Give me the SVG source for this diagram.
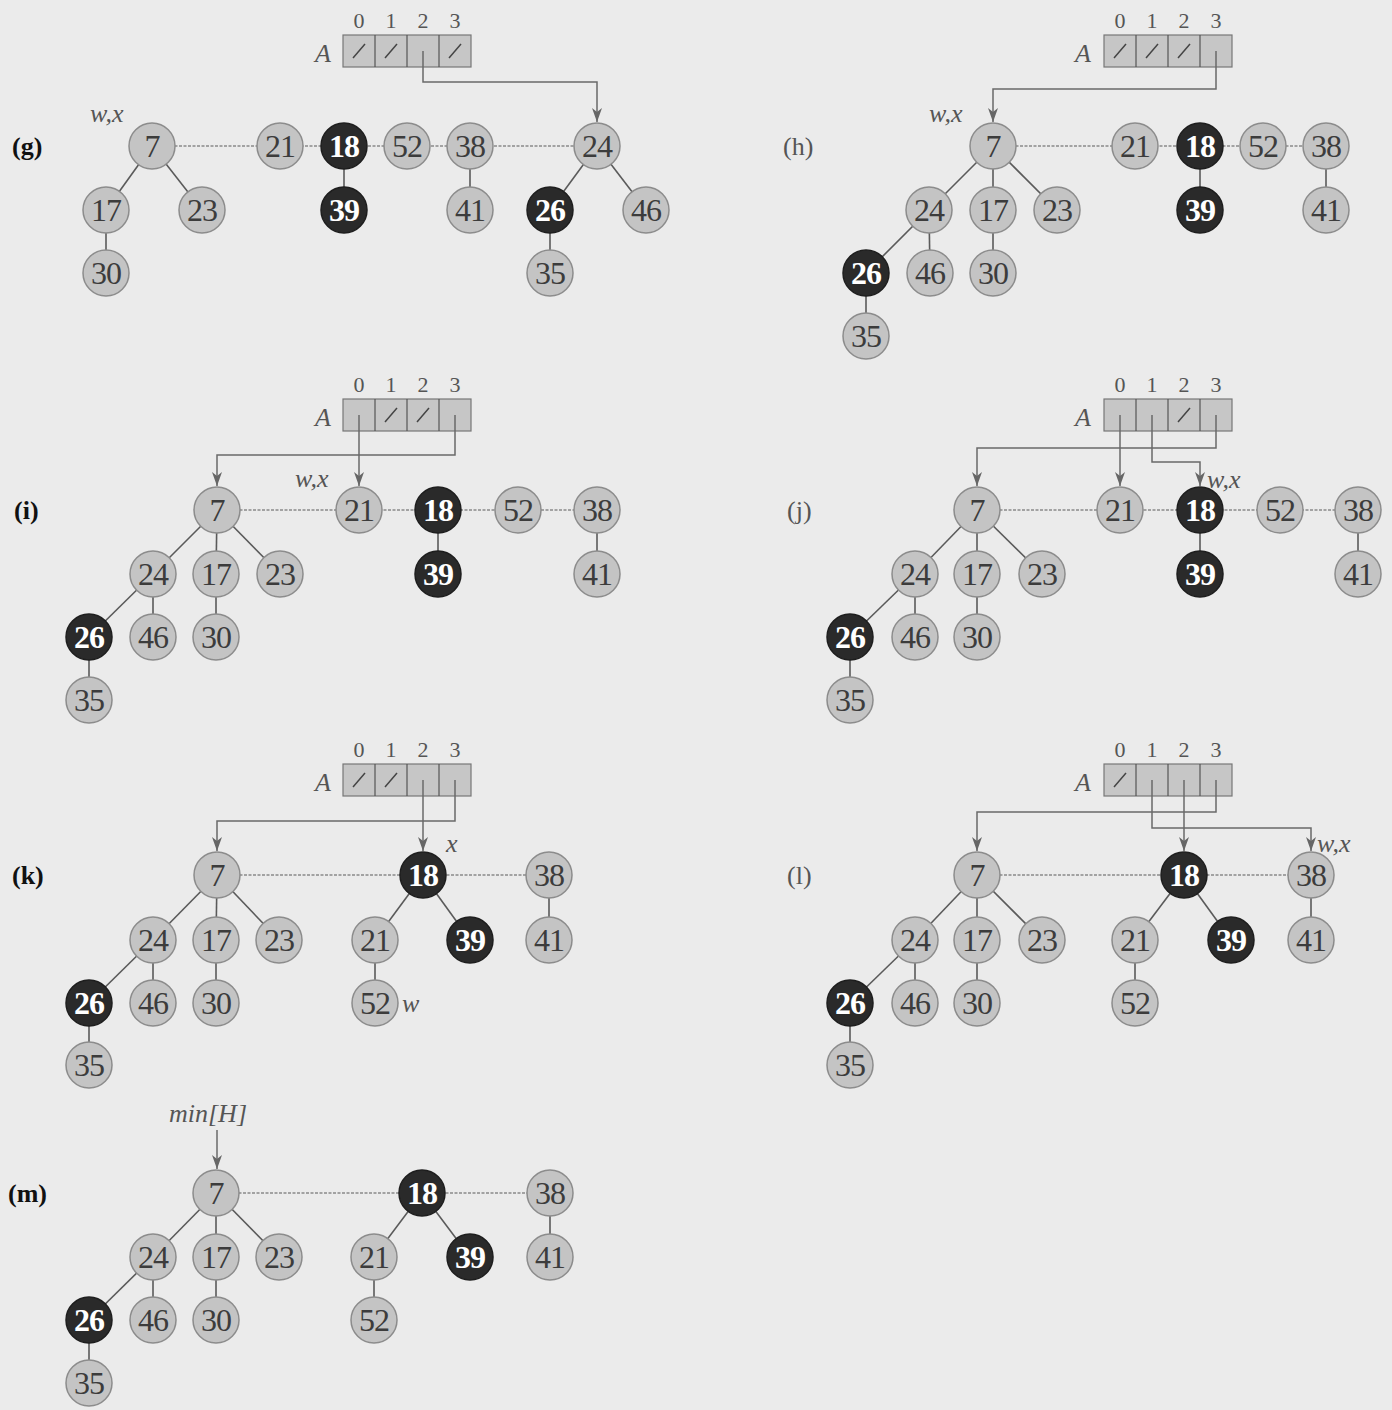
<svg xmlns="http://www.w3.org/2000/svg" width="1392" height="1410" viewBox="0 0 1392 1410">
<defs>
<marker id="ah" markerUnits="userSpaceOnUse" markerWidth="14" markerHeight="12" refX="14" refY="5" orient="auto"><path d="M0,0 L14,5 L0,10 L4,5 Z" fill="#666"/></marker>
</defs>
<style>
.n circle{fill:#c4c4c4;stroke:#8c8c8c;stroke-width:1.5}
.n text{font-family:"Liberation Serif",serif;font-size:32px;fill:#3c3c3c;text-anchor:middle;letter-spacing:-1px}
.b circle{fill:#2a2a2a;stroke:#1e1e1e}
.b text{fill:#fff;font-weight:bold}
.rl{stroke:#8a8a8a;stroke-width:1.3;stroke-dasharray:3 1.5}
.te{stroke:#5a5a5a;stroke-width:1.6}
.ptr{fill:none;stroke:#6a6a6a;stroke-width:1.5;marker-end:url(#ah)}
.arr rect{fill:#c6c6c6;stroke:#777;stroke-width:1.2}
.arr line{stroke:#555;stroke-width:1.2}
.arr .sl{stroke:#444;stroke-width:1.5}
.idx{font-family:"Liberation Serif",serif;font-size:22px;fill:#555;text-anchor:middle}
.lab{font-family:"Liberation Serif",serif;font-style:italic;font-size:26px;fill:#555}
.pl{font-family:"Liberation Serif",serif;font-size:26px;font-weight:bold;fill:#111}
.pl2{font-family:"Liberation Serif",serif;font-size:26px;fill:#555}
</style>
<rect width="1392" height="1410" fill="#ebebeb"/>

<!-- panel labels -->
<text class="pl" x="12" y="155">(g)</text>
<text class="pl2" x="783" y="155">(h)</text>
<text class="pl" x="14" y="519">(i)</text>
<text class="pl2" x="787" y="519">(j)</text>
<text class="pl" x="12" y="884">(k)</text>
<text class="pl2" x="787" y="884">(l)</text>
<text class="pl" x="8" y="1202">(m)</text>

<!-- arrays -->
<g id="arr-g" class="arr">
<text class="idx" x="359" y="28">0</text><text class="idx" x="391" y="28">1</text><text class="idx" x="423" y="28">2</text><text class="idx" x="455" y="28">3</text>
<text class="lab" x="315" y="62" font-size="28">A</text>
<rect x="343" y="35" width="128" height="32"/>
<line x1="375" y1="35" x2="375" y2="67"/><line x1="407" y1="35" x2="407" y2="67"/><line x1="439" y1="35" x2="439" y2="67"/>
<line class="sl" x1="353" y1="58" x2="365" y2="44"/><line class="sl" x1="385" y1="58" x2="397" y2="44"/><line class="sl" x1="449" y1="58" x2="461" y2="44"/>
</g>
<g id="arr-h" class="arr">
<text class="idx" x="1120" y="28">0</text><text class="idx" x="1152" y="28">1</text><text class="idx" x="1184" y="28">2</text><text class="idx" x="1216" y="28">3</text>
<text class="lab" x="1075" y="62" font-size="28">A</text>
<rect x="1104" y="35" width="128" height="32"/>
<line x1="1136" y1="35" x2="1136" y2="67"/><line x1="1168" y1="35" x2="1168" y2="67"/><line x1="1200" y1="35" x2="1200" y2="67"/>
<line class="sl" x1="1114" y1="58" x2="1126" y2="44"/><line class="sl" x1="1146" y1="58" x2="1158" y2="44"/><line class="sl" x1="1178" y1="58" x2="1190" y2="44"/>
</g>
<g id="arr-i" class="arr">
<text class="idx" x="359" y="392">0</text><text class="idx" x="391" y="392">1</text><text class="idx" x="423" y="392">2</text><text class="idx" x="455" y="392">3</text>
<text class="lab" x="315" y="426" font-size="28">A</text>
<rect x="343" y="399" width="128" height="32"/>
<line x1="375" y1="399" x2="375" y2="431"/><line x1="407" y1="399" x2="407" y2="431"/><line x1="439" y1="399" x2="439" y2="431"/>
<line class="sl" x1="385" y1="422" x2="397" y2="408"/><line class="sl" x1="417" y1="422" x2="429" y2="408"/>
</g>
<g id="arr-j" class="arr">
<text class="idx" x="1120" y="392">0</text><text class="idx" x="1152" y="392">1</text><text class="idx" x="1184" y="392">2</text><text class="idx" x="1216" y="392">3</text>
<text class="lab" x="1075" y="426" font-size="28">A</text>
<rect x="1104" y="399" width="128" height="32"/>
<line x1="1136" y1="399" x2="1136" y2="431"/><line x1="1168" y1="399" x2="1168" y2="431"/><line x1="1200" y1="399" x2="1200" y2="431"/>
<line class="sl" x1="1178" y1="422" x2="1190" y2="408"/>
</g>
<g id="arr-k" class="arr">
<text class="idx" x="359" y="757">0</text><text class="idx" x="391" y="757">1</text><text class="idx" x="423" y="757">2</text><text class="idx" x="455" y="757">3</text>
<text class="lab" x="315" y="791" font-size="28">A</text>
<rect x="343" y="764" width="128" height="32"/>
<line x1="375" y1="764" x2="375" y2="796"/><line x1="407" y1="764" x2="407" y2="796"/><line x1="439" y1="764" x2="439" y2="796"/>
<line class="sl" x1="353" y1="787" x2="365" y2="773"/><line class="sl" x1="385" y1="787" x2="397" y2="773"/>
</g>
<g id="arr-l" class="arr">
<text class="idx" x="1120" y="757">0</text><text class="idx" x="1152" y="757">1</text><text class="idx" x="1184" y="757">2</text><text class="idx" x="1216" y="757">3</text>
<text class="lab" x="1075" y="791" font-size="28">A</text>
<rect x="1104" y="764" width="128" height="32"/>
<line x1="1136" y1="764" x2="1136" y2="796"/><line x1="1168" y1="764" x2="1168" y2="796"/><line x1="1200" y1="764" x2="1200" y2="796"/>
<line class="sl" x1="1114" y1="787" x2="1126" y2="773"/>
</g>

<!-- text labels -->
<text class="lab" x="90" y="122">w,x</text>
<text class="lab" x="929" y="122">w,x</text>
<text class="lab" x="295" y="487">w,x</text>
<text class="lab" x="1207" y="488">w,x</text>
<text class="lab" x="446" y="852">x</text>
<text class="lab" x="402" y="1012">w</text>
<text class="lab" x="1317" y="852">w,x</text>
<text class="lab" x="169" y="1122">min[H]</text>

<g id="connectors">
<!-- g -->
<line class="rl" x1="152" y1="146" x2="597" y2="146"/>
<line class="te" x1="152" y1="146" x2="106" y2="210"/><line class="te" x1="152" y1="146" x2="202" y2="210"/><line class="te" x1="106" y1="210" x2="106" y2="273"/>
<line class="te" x1="344" y1="146" x2="344" y2="210"/><line class="te" x1="470" y1="146" x2="470" y2="210"/>
<line class="te" x1="597" y1="146" x2="550" y2="210"/><line class="te" x1="597" y1="146" x2="646" y2="210"/><line class="te" x1="550" y1="210" x2="550" y2="273"/>
<polyline class="ptr" points="423,51 423,82 597,82 597,122"/>
<!-- h -->
<line class="rl" x1="993" y1="146" x2="1326" y2="146"/>
<line class="te" x1="993" y1="146" x2="929" y2="210"/><line class="te" x1="993" y1="146" x2="993" y2="210"/><line class="te" x1="993" y1="146" x2="1057" y2="210"/>
<line class="te" x1="929" y1="210" x2="866" y2="273"/><line class="te" x1="929" y1="210" x2="930" y2="273"/><line class="te" x1="993" y1="210" x2="993" y2="273"/><line class="te" x1="866" y1="273" x2="866" y2="336"/>
<line class="te" x1="1200" y1="146" x2="1200" y2="210"/><line class="te" x1="1326" y1="146" x2="1326" y2="210"/>
<polyline class="ptr" points="1216,51 1216,89 993,89 993,122"/>
<!-- i -->
<line class="rl" x1="217" y1="510" x2="597" y2="510"/>
<line class="te" x1="217" y1="510" x2="153" y2="574"/><line class="te" x1="217" y1="510" x2="216" y2="574"/><line class="te" x1="217" y1="510" x2="280" y2="574"/>
<line class="te" x1="153" y1="574" x2="89" y2="637"/><line class="te" x1="153" y1="574" x2="153" y2="637"/><line class="te" x1="216" y1="574" x2="216" y2="637"/><line class="te" x1="89" y1="637" x2="89" y2="700"/>
<line class="te" x1="438" y1="510" x2="438" y2="574"/><line class="te" x1="597" y1="510" x2="597" y2="574"/>
<polyline class="ptr" points="455,415 455,455 217,455 217,486"/>
<polyline class="ptr" points="359,415 359,486"/>
<!-- j -->
<line class="rl" x1="977" y1="510" x2="1358" y2="510"/>
<line class="te" x1="977" y1="510" x2="915" y2="574"/><line class="te" x1="977" y1="510" x2="977" y2="574"/><line class="te" x1="977" y1="510" x2="1042" y2="574"/>
<line class="te" x1="915" y1="574" x2="850" y2="637"/><line class="te" x1="915" y1="574" x2="915" y2="637"/><line class="te" x1="977" y1="574" x2="977" y2="637"/><line class="te" x1="850" y1="637" x2="850" y2="700"/>
<line class="te" x1="1200" y1="510" x2="1200" y2="574"/><line class="te" x1="1358" y1="510" x2="1358" y2="574"/>
<polyline class="ptr" points="1216,415 1216,448 977,448 977,486"/>
<polyline class="ptr" points="1120,415 1120,486"/>
<polyline class="ptr" points="1152,415 1152,462 1200,462 1200,486"/>
<!-- k -->
<line class="rl" x1="217" y1="875" x2="549" y2="875"/>
<line class="te" x1="217" y1="875" x2="153" y2="940"/><line class="te" x1="217" y1="875" x2="216" y2="940"/><line class="te" x1="217" y1="875" x2="279" y2="940"/>
<line class="te" x1="153" y1="940" x2="89" y2="1003"/><line class="te" x1="153" y1="940" x2="153" y2="1003"/><line class="te" x1="216" y1="940" x2="216" y2="1003"/><line class="te" x1="89" y1="1003" x2="89" y2="1065"/>
<line class="te" x1="423" y1="875" x2="375" y2="940"/><line class="te" x1="423" y1="875" x2="470" y2="940"/><line class="te" x1="375" y1="940" x2="375" y2="1003"/><line class="te" x1="549" y1="875" x2="549" y2="940"/>
<polyline class="ptr" points="455,780 455,821 217,821 217,851"/>
<polyline class="ptr" points="423,780 423,851"/>
<!-- l -->
<line class="rl" x1="977" y1="875" x2="1311" y2="875"/>
<line class="te" x1="977" y1="875" x2="915" y2="940"/><line class="te" x1="977" y1="875" x2="977" y2="940"/><line class="te" x1="977" y1="875" x2="1042" y2="940"/>
<line class="te" x1="915" y1="940" x2="850" y2="1003"/><line class="te" x1="915" y1="940" x2="915" y2="1003"/><line class="te" x1="977" y1="940" x2="977" y2="1003"/><line class="te" x1="850" y1="1003" x2="850" y2="1065"/>
<line class="te" x1="1184" y1="875" x2="1135" y2="940"/><line class="te" x1="1184" y1="875" x2="1231" y2="940"/><line class="te" x1="1135" y1="940" x2="1135" y2="1003"/><line class="te" x1="1311" y1="875" x2="1311" y2="940"/>
<polyline class="ptr" points="1216,780 1216,812 977,812 977,851"/>
<polyline class="ptr" points="1152,780 1152,828 1311,828 1311,851"/>
<polyline class="ptr" points="1184,780 1184,851"/>
<!-- m -->
<line class="rl" x1="216" y1="1193" x2="550" y2="1193"/>
<line class="te" x1="216" y1="1193" x2="153" y2="1257"/><line class="te" x1="216" y1="1193" x2="216" y2="1257"/><line class="te" x1="216" y1="1193" x2="279" y2="1257"/>
<line class="te" x1="153" y1="1257" x2="89" y2="1320"/><line class="te" x1="153" y1="1257" x2="153" y2="1320"/><line class="te" x1="216" y1="1257" x2="216" y2="1320"/><line class="te" x1="89" y1="1320" x2="89" y2="1383"/>
<line class="te" x1="422" y1="1193" x2="374" y2="1257"/><line class="te" x1="422" y1="1193" x2="470" y2="1257"/><line class="te" x1="374" y1="1257" x2="374" y2="1320"/><line class="te" x1="550" y1="1193" x2="550" y2="1257"/>
<polyline class="ptr" points="217,1130 217,1169"/>
</g>

<!-- nodes g -->
<g id="g-7" class="n"><circle cx="152" cy="146" r="23"/><text x="152" y="157">7</text></g>
<g id="g-17" class="n"><circle cx="106" cy="210" r="23"/><text x="106" y="221">17</text></g>
<g id="g-23" class="n"><circle cx="202" cy="210" r="23"/><text x="202" y="221">23</text></g>
<g id="g-30" class="n"><circle cx="106" cy="273" r="23"/><text x="106" y="284">30</text></g>
<g id="g-21" class="n"><circle cx="280" cy="146" r="23"/><text x="280" y="157">21</text></g>
<g id="g-18" class="n b"><circle cx="344" cy="146" r="23"/><text x="344" y="157">18</text></g>
<g id="g-39" class="n b"><circle cx="344" cy="210" r="23"/><text x="344" y="221">39</text></g>
<g id="g-52" class="n"><circle cx="407" cy="146" r="23"/><text x="407" y="157">52</text></g>
<g id="g-38" class="n"><circle cx="470" cy="146" r="23"/><text x="470" y="157">38</text></g>
<g id="g-41" class="n"><circle cx="470" cy="210" r="23"/><text x="470" y="221">41</text></g>
<g id="g-24" class="n"><circle cx="597" cy="146" r="23"/><text x="597" y="157">24</text></g>
<g id="g-26" class="n b"><circle cx="550" cy="210" r="23"/><text x="550" y="221">26</text></g>
<g id="g-46" class="n"><circle cx="646" cy="210" r="23"/><text x="646" y="221">46</text></g>
<g id="g-35" class="n"><circle cx="550" cy="273" r="23"/><text x="550" y="284">35</text></g>

<!-- nodes h -->
<g id="h-7" class="n"><circle cx="993" cy="146" r="23"/><text x="993" y="157">7</text></g>
<g id="h-24" class="n"><circle cx="929" cy="210" r="23"/><text x="929" y="221">24</text></g>
<g id="h-17" class="n"><circle cx="993" cy="210" r="23"/><text x="993" y="221">17</text></g>
<g id="h-23" class="n"><circle cx="1057" cy="210" r="23"/><text x="1057" y="221">23</text></g>
<g id="h-26" class="n b"><circle cx="866" cy="273" r="23"/><text x="866" y="284">26</text></g>
<g id="h-46" class="n"><circle cx="930" cy="273" r="23"/><text x="930" y="284">46</text></g>
<g id="h-30" class="n"><circle cx="993" cy="273" r="23"/><text x="993" y="284">30</text></g>
<g id="h-35" class="n"><circle cx="866" cy="336" r="23"/><text x="866" y="347">35</text></g>
<g id="h-21" class="n"><circle cx="1135" cy="146" r="23"/><text x="1135" y="157">21</text></g>
<g id="h-18" class="n b"><circle cx="1200" cy="146" r="23"/><text x="1200" y="157">18</text></g>
<g id="h-39" class="n b"><circle cx="1200" cy="210" r="23"/><text x="1200" y="221">39</text></g>
<g id="h-52" class="n"><circle cx="1263" cy="146" r="23"/><text x="1263" y="157">52</text></g>
<g id="h-38" class="n"><circle cx="1326" cy="146" r="23"/><text x="1326" y="157">38</text></g>
<g id="h-41" class="n"><circle cx="1326" cy="210" r="23"/><text x="1326" y="221">41</text></g>

<!-- nodes i -->
<g id="i-7" class="n"><circle cx="217" cy="510" r="23"/><text x="217" y="521">7</text></g>
<g id="i-24" class="n"><circle cx="153" cy="574" r="23"/><text x="153" y="585">24</text></g>
<g id="i-17" class="n"><circle cx="216" cy="574" r="23"/><text x="216" y="585">17</text></g>
<g id="i-23" class="n"><circle cx="280" cy="574" r="23"/><text x="280" y="585">23</text></g>
<g id="i-26" class="n b"><circle cx="89" cy="637" r="23"/><text x="89" y="648">26</text></g>
<g id="i-46" class="n"><circle cx="153" cy="637" r="23"/><text x="153" y="648">46</text></g>
<g id="i-30" class="n"><circle cx="216" cy="637" r="23"/><text x="216" y="648">30</text></g>
<g id="i-35" class="n"><circle cx="89" cy="700" r="23"/><text x="89" y="711">35</text></g>
<g id="i-21" class="n"><circle cx="359" cy="510" r="23"/><text x="359" y="521">21</text></g>
<g id="i-18" class="n b"><circle cx="438" cy="510" r="23"/><text x="438" y="521">18</text></g>
<g id="i-39" class="n b"><circle cx="438" cy="574" r="23"/><text x="438" y="585">39</text></g>
<g id="i-52" class="n"><circle cx="518" cy="510" r="23"/><text x="518" y="521">52</text></g>
<g id="i-38" class="n"><circle cx="597" cy="510" r="23"/><text x="597" y="521">38</text></g>
<g id="i-41" class="n"><circle cx="597" cy="574" r="23"/><text x="597" y="585">41</text></g>

<!-- nodes j -->
<g id="j-7" class="n"><circle cx="977" cy="510" r="23"/><text x="977" y="521">7</text></g>
<g id="j-24" class="n"><circle cx="915" cy="574" r="23"/><text x="915" y="585">24</text></g>
<g id="j-17" class="n"><circle cx="977" cy="574" r="23"/><text x="977" y="585">17</text></g>
<g id="j-23" class="n"><circle cx="1042" cy="574" r="23"/><text x="1042" y="585">23</text></g>
<g id="j-26" class="n b"><circle cx="850" cy="637" r="23"/><text x="850" y="648">26</text></g>
<g id="j-46" class="n"><circle cx="915" cy="637" r="23"/><text x="915" y="648">46</text></g>
<g id="j-30" class="n"><circle cx="977" cy="637" r="23"/><text x="977" y="648">30</text></g>
<g id="j-35" class="n"><circle cx="850" cy="700" r="23"/><text x="850" y="711">35</text></g>
<g id="j-21" class="n"><circle cx="1120" cy="510" r="23"/><text x="1120" y="521">21</text></g>
<g id="j-18" class="n b"><circle cx="1200" cy="510" r="23"/><text x="1200" y="521">18</text></g>
<g id="j-39" class="n b"><circle cx="1200" cy="574" r="23"/><text x="1200" y="585">39</text></g>
<g id="j-52" class="n"><circle cx="1280" cy="510" r="23"/><text x="1280" y="521">52</text></g>
<g id="j-38" class="n"><circle cx="1358" cy="510" r="23"/><text x="1358" y="521">38</text></g>
<g id="j-41" class="n"><circle cx="1358" cy="574" r="23"/><text x="1358" y="585">41</text></g>

<!-- nodes k -->
<g id="k-7" class="n"><circle cx="217" cy="875" r="23"/><text x="217" y="886">7</text></g>
<g id="k-24" class="n"><circle cx="153" cy="940" r="23"/><text x="153" y="951">24</text></g>
<g id="k-17" class="n"><circle cx="216" cy="940" r="23"/><text x="216" y="951">17</text></g>
<g id="k-23" class="n"><circle cx="279" cy="940" r="23"/><text x="279" y="951">23</text></g>
<g id="k-26" class="n b"><circle cx="89" cy="1003" r="23"/><text x="89" y="1014">26</text></g>
<g id="k-46" class="n"><circle cx="153" cy="1003" r="23"/><text x="153" y="1014">46</text></g>
<g id="k-30" class="n"><circle cx="216" cy="1003" r="23"/><text x="216" y="1014">30</text></g>
<g id="k-35" class="n"><circle cx="89" cy="1065" r="23"/><text x="89" y="1076">35</text></g>
<g id="k-18" class="n b"><circle cx="423" cy="875" r="23"/><text x="423" y="886">18</text></g>
<g id="k-21" class="n"><circle cx="375" cy="940" r="23"/><text x="375" y="951">21</text></g>
<g id="k-39" class="n b"><circle cx="470" cy="940" r="23"/><text x="470" y="951">39</text></g>
<g id="k-52" class="n"><circle cx="375" cy="1003" r="23"/><text x="375" y="1014">52</text></g>
<g id="k-38" class="n"><circle cx="549" cy="875" r="23"/><text x="549" y="886">38</text></g>
<g id="k-41" class="n"><circle cx="549" cy="940" r="23"/><text x="549" y="951">41</text></g>

<!-- nodes l -->
<g id="l-7" class="n"><circle cx="977" cy="875" r="23"/><text x="977" y="886">7</text></g>
<g id="l-24" class="n"><circle cx="915" cy="940" r="23"/><text x="915" y="951">24</text></g>
<g id="l-17" class="n"><circle cx="977" cy="940" r="23"/><text x="977" y="951">17</text></g>
<g id="l-23" class="n"><circle cx="1042" cy="940" r="23"/><text x="1042" y="951">23</text></g>
<g id="l-26" class="n b"><circle cx="850" cy="1003" r="23"/><text x="850" y="1014">26</text></g>
<g id="l-46" class="n"><circle cx="915" cy="1003" r="23"/><text x="915" y="1014">46</text></g>
<g id="l-30" class="n"><circle cx="977" cy="1003" r="23"/><text x="977" y="1014">30</text></g>
<g id="l-35" class="n"><circle cx="850" cy="1065" r="23"/><text x="850" y="1076">35</text></g>
<g id="l-18" class="n b"><circle cx="1184" cy="875" r="23"/><text x="1184" y="886">18</text></g>
<g id="l-21" class="n"><circle cx="1135" cy="940" r="23"/><text x="1135" y="951">21</text></g>
<g id="l-39" class="n b"><circle cx="1231" cy="940" r="23"/><text x="1231" y="951">39</text></g>
<g id="l-52" class="n"><circle cx="1135" cy="1003" r="23"/><text x="1135" y="1014">52</text></g>
<g id="l-38" class="n"><circle cx="1311" cy="875" r="23"/><text x="1311" y="886">38</text></g>
<g id="l-41" class="n"><circle cx="1311" cy="940" r="23"/><text x="1311" y="951">41</text></g>

<!-- nodes m -->
<g id="m-7" class="n"><circle cx="216" cy="1193" r="23"/><text x="216" y="1204">7</text></g>
<g id="m-24" class="n"><circle cx="153" cy="1257" r="23"/><text x="153" y="1268">24</text></g>
<g id="m-17" class="n"><circle cx="216" cy="1257" r="23"/><text x="216" y="1268">17</text></g>
<g id="m-23" class="n"><circle cx="279" cy="1257" r="23"/><text x="279" y="1268">23</text></g>
<g id="m-26" class="n b"><circle cx="89" cy="1320" r="23"/><text x="89" y="1331">26</text></g>
<g id="m-46" class="n"><circle cx="153" cy="1320" r="23"/><text x="153" y="1331">46</text></g>
<g id="m-30" class="n"><circle cx="216" cy="1320" r="23"/><text x="216" y="1331">30</text></g>
<g id="m-35" class="n"><circle cx="89" cy="1383" r="23"/><text x="89" y="1394">35</text></g>
<g id="m-18" class="n b"><circle cx="422" cy="1193" r="23"/><text x="422" y="1204">18</text></g>
<g id="m-21" class="n"><circle cx="374" cy="1257" r="23"/><text x="374" y="1268">21</text></g>
<g id="m-39" class="n b"><circle cx="470" cy="1257" r="23"/><text x="470" y="1268">39</text></g>
<g id="m-52" class="n"><circle cx="374" cy="1320" r="23"/><text x="374" y="1331">52</text></g>
<g id="m-38" class="n"><circle cx="550" cy="1193" r="23"/><text x="550" y="1204">38</text></g>
<g id="m-41" class="n"><circle cx="550" cy="1257" r="23"/><text x="550" y="1268">41</text></g>
</svg>
